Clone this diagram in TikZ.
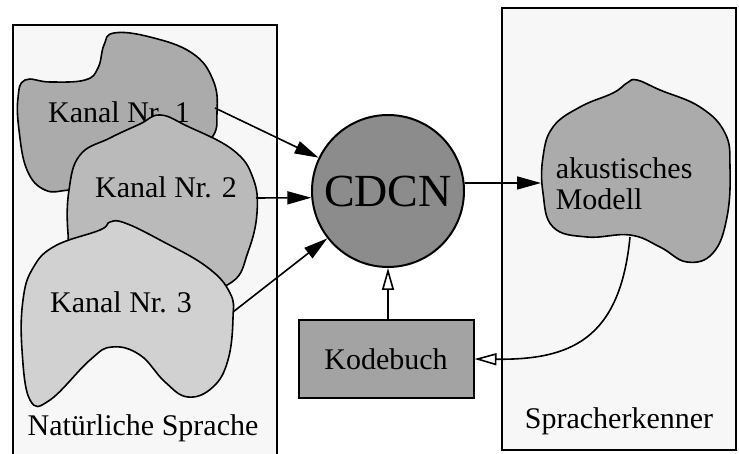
\documentclass[tikz,border=0pt]{standalone}
\usepackage{fontspec}
\setmainfont{Liberation Serif}
\usetikzlibrary{arrows.meta}

\begin{document}
\begin{tikzpicture}[
    x=0.5pt, y=-0.5pt,
    blob/.style={draw, line width=0.8pt, fill=#1},
    area/.style={draw, line width=1pt, fill=gray!6},
    box/.style={draw, line width=1pt, fill=black!36,
                minimum width=87.5pt, minimum height=39pt,
                font=\fontsize{15}{15}\selectfont},
    lbl/.style={font=\fontsize{15}{15.5}\selectfont, inner sep=0pt},
    >={Triangle[length=12pt, width=6.5pt]},
    open/.style={-{Triangle[open, length=11pt, width=6pt]}},
    line width=0.8pt
  ]
  \useasboundingbox (0,0) rectangle (739,454);

  % Bereiche
  \path[area] (13,458) -- (13,25) -- (277,25) -- (277,458);
  \path[area] (502,8) rectangle (736,450);

  % Kanaele (Kanal 1 liegt unter Kanal 2)
  \draw[blob=black!33] plot[smooth cycle, tension=0.7] coordinates {
    (25,80) (50,82) (85,80) (98,68) (104,45) (114,33) (150,37)
    (192,53) (213,80) (217,112) (210,140) (170,168) (110,186)
    (70,190) (45,190) (27,170) (19,130) (18,98)};
  \node[lbl, anchor=base] (k1) at (119,123) {Kanal Nr. 1};
  \draw[blob=black!27] plot[smooth cycle, tension=0.7] coordinates {
    (80,155) (110,138) (140,124) (160,115) (187,126) (233,150)
    (253,178) (257,213) (248,252) (232,282) (190,292) (120,285)
    (75,262) (68,233) (69,190)};
  \draw[blob=black!18] plot[smooth cycle, tension=0.7] coordinates {
    (110,222) (125,223) (160,240) (207,267) (230,293) (233,318)
    (228,360) (213,387) (188,397) (165,382) (140,355) (112,347)
    (90,360) (50,400) (30,400) (22,350) (23,300) (33,268)
    (55,246) (100,230)};

  \node[lbl, anchor=base] (k2) at (166,198) {Kanal Nr. 2};
  \node[lbl, anchor=base] (k3) at (121,313) {Kanal Nr. 3};
  \node[lbl, anchor=base] (nat) at (143,435) {Natürliche Sprache};

  \coordinate (k1out) at (215,108);
  \coordinate (k2out) at (256,198);
  \coordinate (k3out) at (233,312);

  % CDCN und Kodebuch
  \node[draw, circle, line width=1pt, fill=black!45, minimum size=76pt,
        inner sep=0pt, font=\fontsize{23}{23}\selectfont]
        (cdcn) at (388,191) {CDCN};
  \node[box] (kb) at (386,359) {Kodebuch};

  % akustisches Modell
  \draw[blob=black!33] plot[smooth cycle, tension=0.7] coordinates {
    (627,83) (613,93) (580,107) (553,127) (543,157) (543,193)
    (553,227) (587,237) (630,235) (660,247) (687,262) (713,253)
    (727,217) (730,167) (725,133) (700,107) (660,90) (637,80)};
  \node[lbl, align=left, anchor=base west] (mod) at (555,210)
        {akustisches\\Modell};
  \node[lbl, anchor=base] (rec) at (619,428) {Spracherkenner};

  \coordinate (modin) at (541,183);
  \coordinate (modout) at (630,237);

  % Verbindungen
  \draw[->] (k1out) -- (cdcn);
  \draw[->] (k2out) -- (cdcn.185);
  \draw[->] (k3out) -- (cdcn);
  \draw[->] (cdcn.6) -- (modin);
  \draw[open] (kb.north -| cdcn.center) -- (cdcn.south);
  \draw[open] (modout) .. controls (620,340) and (570,360) .. (kb.east);
\end{tikzpicture}
\end{document}
